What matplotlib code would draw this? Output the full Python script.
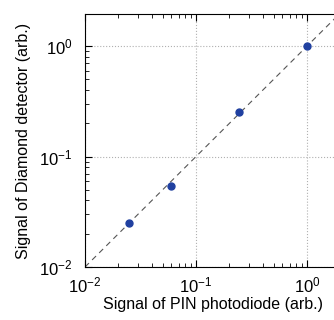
import matplotlib
matplotlib.use('Agg')
import matplotlib.pyplot as plt

# measured signals (arb.)
pin_signal = [0.025, 0.06, 0.245, 1.0]
diamond_signal = [0.025, 0.054, 0.255, 1.0]
line_range = [0.01, 2.0]

plt.rcParams['font.family'] = ['Liberation Sans', 'DejaVu Sans']
plt.rcParams['mathtext.fontset'] = 'custom'
plt.rcParams['mathtext.rm'] = 'Liberation Sans'

fig = plt.figure(figsize=(3.34, 3.2), dpi=100)
ax = fig.add_axes([0.2545, 0.1656, 0.765, 0.7906])

ax.plot(line_range, line_range, color='#555555', linestyle=(0, (5, 4)), linewidth=0.8)
ax.plot(pin_signal, diamond_signal, 'o', color='#2040a0', markersize=5)

ax.set_xscale('log')
ax.set_yscale('log')
ax.set_xlim(0.01, 2.0)
ax.set_ylim(0.01, 1.95)
ax.grid(True, which='major', color='#b0b0b0', linestyle=':', linewidth=0.8)
ax.tick_params(which='both', direction='in', top=True, right=True, labelsize=12)
ax.tick_params(which='major', length=5)
ax.tick_params(which='minor', length=3)
ax.tick_params(axis='x', which='major', pad=6)
ax.tick_params(axis='y', which='major', pad=9)

ax.set_xlabel('Signal of PIN photodiode (arb.)', fontsize=11.5, labelpad=1)
ax.set_ylabel('Signal of Diamond detector (arb.)', fontsize=11.5, labelpad=6)

fig.savefig('out.png', dpi=100)
